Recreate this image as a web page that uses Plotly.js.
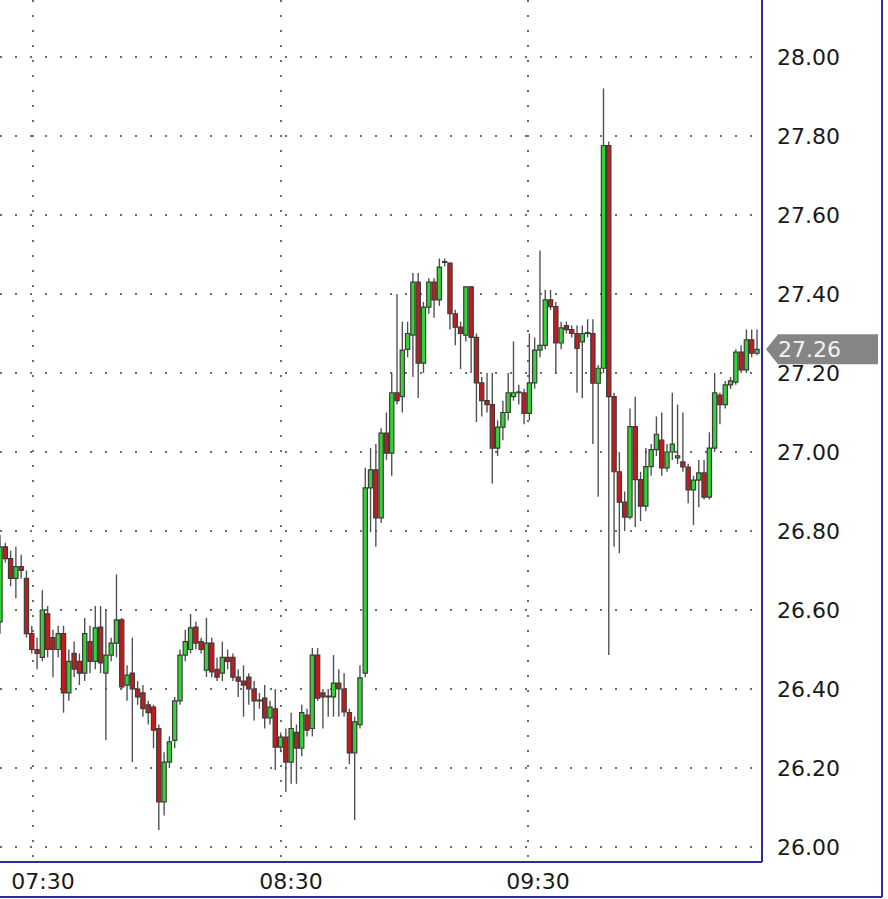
<!DOCTYPE html>
<html>
<head>
<meta charset="utf-8">
<script src="https://cdn.plot.ly/plotly-3.0.1.min.js"></script>
<style>
  html, body { margin: 0; padding: 0; background: #ffffff; }
  #chart { width: 888px; height: 899px; }
</style>
</head>
<body>
<div id="chart"></div>
<script>
// ---- Data ----
const opens = [
  26.57, 26.76, 26.73, 26.68, 26.71, 26.68, 26.54, 26.50, 26.48, 26.59,
  26.53, 26.50, 26.54, 26.39, 26.49, 26.47, 26.44, 26.52, 26.47, 26.557,
  26.44, 26.486, 26.516, 26.575, 26.41, 26.44, 26.40, 26.39, 26.36, 26.354,
  26.30, 26.114, 26.215, 26.27, 26.37, 26.486, 26.50, 26.557, 26.52, 26.448,
  26.516, 26.45, 26.44, 26.48, 26.48, 26.43, 26.42, 26.43, 26.40, 26.37,
  26.377, 26.327, 26.35, 26.253, 26.278, 26.215, 26.29, 26.25, 26.334, 26.30,
  26.486, 26.39, 26.38, 26.38, 26.415, 26.40, 26.34, 26.238, 26.31, 26.44,
  26.909, 26.955, 26.833, 27.048, 26.997, 27.15, 27.14, 27.26, 27.296, 27.43,
  27.225, 27.367, 27.43, 27.385, 27.48, 27.478, 27.35, 27.316, 27.296, 27.418,
  27.29, 27.175, 27.13, 27.12, 27.01, 27.063, 27.10, 27.14, 27.15, 27.15,
  27.098, 27.175, 27.258, 27.27, 27.385, 27.368, 27.276, 27.32, 27.31, 27.30,
  27.279, 27.30, 27.30, 27.174, 27.212, 27.776, 27.14, 26.95, 26.873, 26.835,
  27.064, 26.93, 26.863, 26.963, 27.006, 27.03, 26.96, 27.00, 26.985, 26.975,
  26.962, 26.904, 26.929, 26.947, 26.886, 27.01, 27.144, 27.12, 27.17, 27.177,
  27.253, 27.208, 27.284, 27.25
];
const highs = [
  26.79, 26.77, 26.75, 26.76, 26.74, 26.70, 26.56, 26.53, 26.65, 26.61,
  26.55, 26.56, 26.56, 26.50, 26.52, 26.49, 26.58, 26.56, 26.61, 26.61,
  26.60, 26.53, 26.69, 26.58, 26.46, 26.53, 26.42, 26.41, 26.37, 26.36,
  26.31, 26.24, 26.28, 26.38, 26.50, 26.55, 26.59, 26.57, 26.53, 26.58,
  26.53, 26.48, 26.52, 26.50, 26.49, 26.45, 26.46, 26.44, 26.42, 26.39,
  26.41, 26.37, 26.40, 26.29, 26.30, 26.34, 26.31, 26.36, 26.35, 26.504,
  26.504, 26.40, 26.40, 26.486, 26.45, 26.44, 26.35, 26.33, 26.46, 26.96,
  27.01, 27.02, 27.06, 27.10, 27.20, 27.40, 27.33, 27.33, 27.453, 27.453,
  27.38, 27.44, 27.44, 27.49, 27.49, 27.48, 27.36, 27.33, 27.42, 27.42,
  27.30, 27.19, 27.20, 27.20, 27.08, 27.13, 27.20, 27.28, 27.17, 27.16,
  27.30, 27.29, 27.51, 27.41, 27.41, 27.38, 27.33, 27.33, 27.32, 27.32,
  27.32, 27.336, 27.336, 27.22, 27.92, 27.786, 27.15, 27.00, 26.90, 27.11,
  27.14, 26.95, 27.01, 27.02, 27.09, 27.10, 27.02, 27.15, 27.12, 27.10,
  26.97, 26.94, 26.98, 26.98, 27.05, 27.20, 27.15, 27.18, 27.19, 27.26,
  27.27, 27.31, 27.31, 27.31
];
const lows = [
  26.54, 26.72, 26.66, 26.63, 26.68, 26.53, 26.49, 26.45, 26.47, 26.48,
  26.43, 26.48, 26.34, 26.37, 26.43, 26.41, 26.42, 26.44, 26.45, 26.44,
  26.27, 26.47, 26.48, 26.40, 26.37, 26.215, 26.36, 26.33, 26.31, 26.25,
  26.043, 26.08, 26.20, 26.25, 26.36, 26.47, 26.49, 26.50, 26.49, 26.43,
  26.43, 26.42, 26.42, 26.45, 26.42, 26.38, 26.33, 26.36, 26.32, 26.35,
  26.30, 26.31, 26.195, 26.24, 26.139, 26.16, 26.16, 26.23, 26.28, 26.28,
  26.37, 26.30, 26.33, 26.33, 26.33, 26.33, 26.21, 26.068, 26.30, 26.43,
  26.797, 26.76, 26.82, 26.98, 26.94, 27.12, 27.10, 27.24, 27.19, 27.137,
  27.20, 27.35, 27.34, 27.37, 27.47, 27.31, 27.27, 27.21, 27.28, 27.20,
  27.076, 27.09, 27.10, 26.92, 26.99, 27.03, 27.08, 27.13, 27.12, 27.07,
  27.08, 27.16, 27.24, 27.26, 27.36, 27.20, 27.26, 27.30, 27.29, 27.15,
  27.136, 27.29, 27.02, 26.887, 27.20, 26.486, 26.76, 26.744, 26.80, 26.83,
  26.81, 26.825, 26.85, 26.94, 26.99, 26.94, 26.95, 26.98, 26.97, 26.95,
  26.87, 26.815, 26.86, 26.88, 26.88, 27.00, 27.07, 27.11, 27.16, 27.17,
  27.20, 27.20, 27.24, 27.245
];
const closes = [
  26.76, 26.73, 26.68, 26.71, 26.70, 26.54, 26.50, 26.49, 26.60, 26.50,
  26.50, 26.54, 26.39, 26.47, 26.45, 26.44, 26.54, 26.47, 26.555, 26.466,
  26.486, 26.516, 26.575, 26.405, 26.435, 26.40, 26.38, 26.35, 26.34, 26.296,
  26.114, 26.215, 26.266, 26.37, 26.486, 26.52, 26.555, 26.516, 26.50, 26.516,
  26.443, 26.43, 26.48, 26.47, 26.43, 26.42, 26.41, 26.40, 26.37, 26.37,
  26.327, 26.354, 26.253, 26.278, 26.215, 26.30, 26.25, 26.34, 26.296, 26.486,
  26.377, 26.38, 26.38, 26.415, 26.40, 26.342, 26.238, 26.317, 26.428, 26.909,
  26.955, 26.833, 27.048, 26.997, 27.15, 27.13, 27.258, 27.30, 27.43, 27.225,
  27.367, 27.43, 27.385, 27.468, 27.48, 27.35, 27.316, 27.30, 27.418, 27.29,
  27.175, 27.13, 27.12, 27.01, 27.063, 27.10, 27.15, 27.15, 27.15, 27.098,
  27.175, 27.258, 27.27, 27.385, 27.368, 27.276, 27.314, 27.31, 27.30, 27.262,
  27.30, 27.30, 27.174, 27.212, 27.776, 27.14, 26.95, 26.873, 26.835, 27.064,
  26.93, 26.863, 26.963, 27.006, 27.045, 26.96, 27.00, 27.02, 26.99, 26.962,
  26.904, 26.929, 26.947, 26.886, 27.01, 27.15, 27.12, 27.17, 27.18, 27.253,
  27.208, 27.284, 27.25, 27.26
];
const timeTickLabels = ['07:30', '08:30', '09:30'];
const timeTickIndex = [6.23, 53.08, 99.74];
const priceTicks = [26.0, 26.2, 26.4, 26.6, 26.8, 27.0, 27.2, 27.4, 27.6, 27.8, 28.0];

// ---- Chart ----
const xs = closes.map((_, i) => i);
const lastClose = closes[closes.length - 1];
const FRAME = '#2c2ca6';
const GRID = '#6e6e6e';
const OUTLINE = '#3c3c3c';
const UP = '#33d433', DOWN = '#c41c1c';
const FONT = 'DejaVu Sans, Verdana, sans-serif';

// wicks: thin bars from low to high (drawn first, under the bodies)
const wickTrace = {
  type: 'bar', x: xs, base: lows, y: highs.map((h, i) => h - lows[i]),
  width: 0.26, marker: { color: '#505050', line: { width: 0 } },
  hoverinfo: 'skip', showlegend: false
};
// bodies: bars from open to close
const bodyTrace = {
  type: 'bar', x: xs,
  base: opens.map((o, i) => Math.min(o, closes[i])),
  y: opens.map((o, i) => Math.max(Math.abs(closes[i] - o), 0.002)),
  width: 0.8,
  marker: {
    color: opens.map((o, i) => closes[i] >= o ? UP : DOWN),
    line: { color: OUTLINE, width: 1.2 }
  },
  hoverinfo: 'skip', showlegend: false
};

const plotW = 762, plotH = 862;
const pxPerUnit = 395;
const tagHalf = 15 / pxPerUnit;

const layout = {
  width: 888, height: 899,
  margin: { l: 0, r: 888 - plotW, t: 0, b: 899 - plotH, pad: 0 },
  paper_bgcolor: '#ffffff', plot_bgcolor: '#ffffff',
  barmode: 'overlay',
  showlegend: false,
  xaxis: {
    range: [0, xs.length - 1 + 0.945],
    tickmode: 'array', tickvals: timeTickIndex, ticktext: timeTickLabels,
    ticks: '', ticklabelshift: 10, ticklabelstandoff: 4,
    tickfont: { family: FONT, size: 22, color: '#1a1a1a' },
    showgrid: true, gridcolor: GRID, gridwidth: 2, griddash: '2px,13px',
    zeroline: false, showline: false, fixedrange: true
  },
  yaxis: {
    side: 'right',
    range: [26 - 15 / pxPerUnit, 28 + 57 / pxPerUnit],
    tickmode: 'array', tickvals: priceTicks,
    ticktext: priceTicks.map(v => v.toFixed(2)),
    ticks: '', ticklabelstandoff: 14,
    tickfont: { family: FONT, size: 22, color: '#1a1a1a' },
    showgrid: true, gridcolor: GRID, gridwidth: 2, griddash: '2px,13px',
    zeroline: false, showline: false, fixedrange: true
  },
  shapes: [
    // plot frame (right and bottom)
    { type: 'line', xref: 'paper', yref: 'paper', x0: 1, x1: 1, y0: 0, y1: 1.01, line: { color: FRAME, width: 2 } },
    { type: 'line', xref: 'paper', yref: 'paper', x0: -0.01, x1: 1, y0: 0, y1: 0, line: { color: FRAME, width: 2 } },
    // outer frame
    { type: 'line', xref: 'paper', yref: 'paper', x0: 882 / plotW, x1: 882 / plotW, y0: -(897 - plotH) / plotH, y1: 1.01, line: { color: FRAME, width: 2 } },
    { type: 'line', xref: 'paper', yref: 'paper', x0: -0.01, x1: 882 / plotW, y0: -(897 - plotH) / plotH, y1: -(897 - plotH) / plotH, line: { color: FRAME, width: 2 } },
    // last price tag
    { type: 'path', xref: 'paper', yref: 'y', layer: 'above',
      path: 'M ' + (766 / plotW) + ',' + lastClose +
            ' L ' + (778 / plotW) + ',' + (lastClose + tagHalf) +
            ' L ' + (878 / plotW) + ',' + (lastClose + tagHalf) +
            ' L ' + (878 / plotW) + ',' + (lastClose - tagHalf) +
            ' L ' + (778 / plotW) + ',' + (lastClose - tagHalf) + ' Z',
      fillcolor: '#858585', line: { width: 0 } }
  ],
  annotations: [
    { xref: 'paper', yref: 'y', x: 776 / plotW, y: lastClose, xanchor: 'left', yanchor: 'middle',
      text: lastClose.toFixed(2), showarrow: false,
      font: { family: FONT, size: 22, color: '#f2f2f2' } }
  ]
};

Plotly.newPlot('chart', [wickTrace, bodyTrace], layout, { staticPlot: true, displayModeBar: false });
</script>
</body>
</html>
